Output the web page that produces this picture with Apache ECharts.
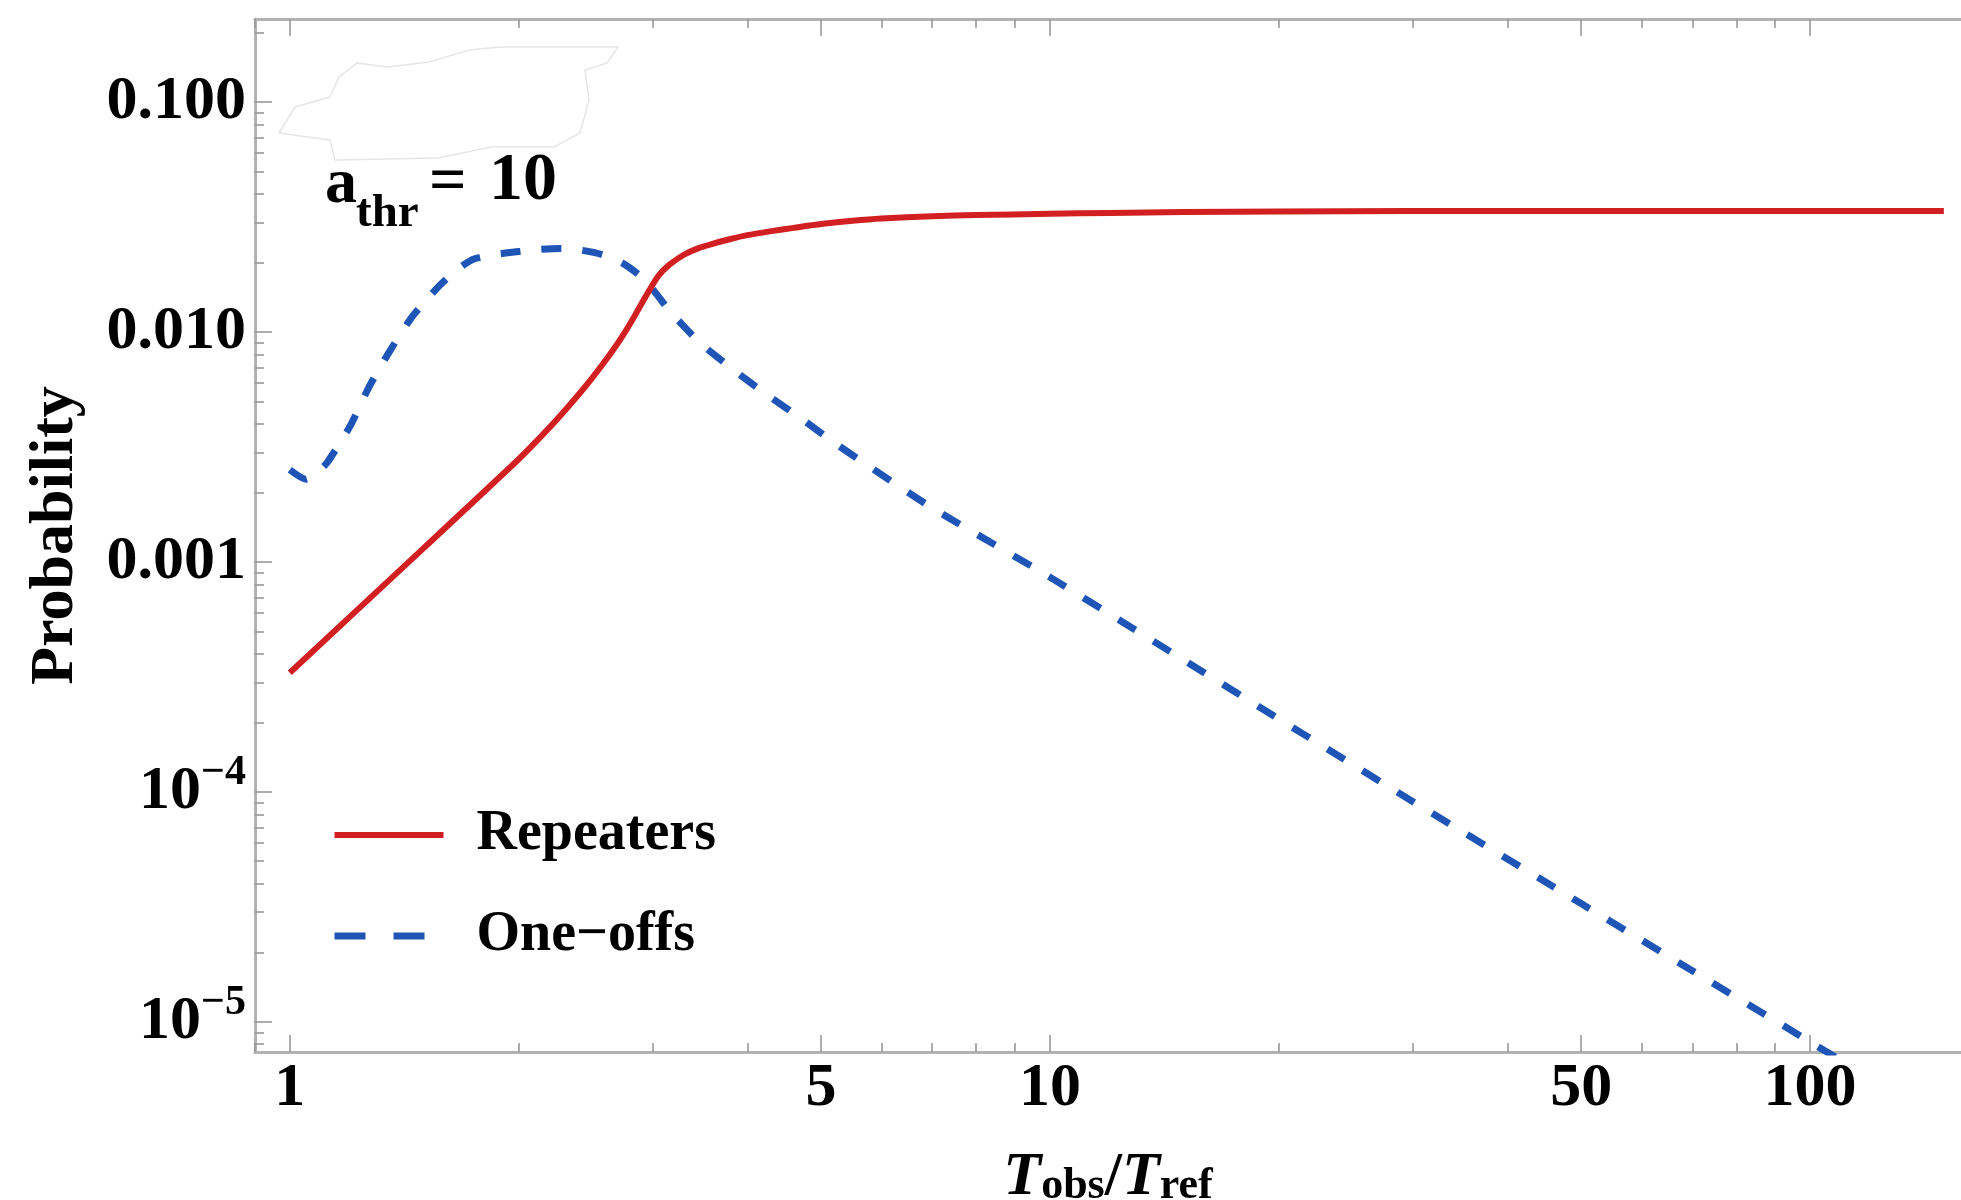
<!DOCTYPE html>
<html>
<head>
<meta charset="utf-8">
<script src="https://cdn.jsdelivr.net/npm/echarts@6/dist/echarts.min.js"></script>
<style>
  html, body { margin: 0; padding: 0; background: #ffffff; }
  #chart { width: 1961px; height: 1200px; }
</style>
</head>
<body>
<div id="chart"></div>
<script>
// Detection probability versus observing time, repeaters vs one-off sources
const seriesNames = ['Repeaters', 'One\u2212offs'];

const repeatersT = [1, 1.5, 2, 2.2, 2.35, 2.5, 2.65, 2.75, 2.85, 2.95, 3.05, 3.15, 3.3, 3.45, 3.6, 3.8, 4, 4.3, 4.6, 5, 5.5, 6, 7, 8, 10, 12, 15, 20, 30, 50, 100, 150];
const repeatersP = [3.3e-4, 1.15e-3, 2.8e-3, 3.87e-3, 4.94e-3, 6.33e-3, 8.18e-3, 9.81e-3, 1.194e-2, 1.459e-2, 1.746e-2, 1.95e-2, 2.17e-2, 2.32e-2, 2.42e-2, 2.54e-2, 2.64e-2, 2.75e-2, 2.84e-2, 2.95e-2, 3.05e-2, 3.12e-2, 3.19e-2, 3.23e-2, 3.27e-2, 3.3e-2, 3.33e-2, 3.35e-2, 3.36e-2, 3.36e-2, 3.36e-2, 3.36e-2];

const oneOffsT = [1, 1.05, 1.08, 1.12, 1.2, 1.27, 1.35, 1.45, 1.57, 1.65, 1.74, 1.85, 2, 2.13, 2.27, 2.42, 2.58, 2.75, 2.9, 3.02, 3.15, 3.3, 3.46, 3.65, 3.83, 4.24, 4.69, 5.18, 5.74, 7, 10, 15, 20, 30, 50, 70, 100, 150];
const oneOffsP = [2.52e-3, 2.29e-3, 2.4e-3, 2.71e-3, 3.89e-3, 5.74e-3, 8.15e-3, 1.17e-2, 1.58e-2, 1.84e-2, 2.07e-2, 2.17e-2, 2.24e-2, 2.29e-2, 2.31e-2, 2.27e-2, 2.17e-2, 1.98e-2, 1.74e-2, 1.5e-2, 1.25e-2, 1.06e-2, 9.0e-3, 7.8e-3, 6.87e-3, 5.35e-3, 4.25e-3, 3.34e-3, 2.65e-3, 1.72e-3, 8.6e-4, 3.75e-4, 2.08e-4, 9.1e-5, 3.27e-5, 1.67e-5, 8.2e-6, 3.62e-6];

const xTickLabels = [1, 5, 10, 50, 100];
const yTickLabels = [1e-5, 1e-4, 1e-3, 1e-2, 1e-1];

const X_MIN = 0.9, X_MAX = 158;
const Y_MIN = 7.4e-6, Y_MAX = 0.23;

// minor ticks at 2..9 times each decade (skipping labelled ones)
function minorTicks(lo, hi, skip) {
  const out = [];
  for (let e = -7; e <= 3; e++) {
    const d = Math.pow(10, e);
    for (let m = 2; m <= 9; m++) {
      const v = +(m * d).toPrecision(6);
      if (v >= lo && v <= hi && skip.indexOf(v) < 0) out.push(v);
    }
  }
  return out;
}
const xMinor = minorTicks(X_MIN, X_MAX, xTickLabels);
const yMinor = minorTicks(Y_MIN, Y_MAX, yTickLabels);

const FONT = '"Liberation Serif", "Times New Roman", serif';
const FRAME = '#b2b2b2';
const TICK = '#999999';
const RED = '#d11f22';
const BLUE = '#1f55b6';

function pairs(xs, ys) { return xs.map((x, i) => [x, ys[i]]); }

function xAxisDef(position, ticks, len, opts) {
  return Object.assign({
    type: 'log', logBase: 10, min: X_MIN, max: X_MAX, position: position,
    axisLine: { show: false, onZero: false },
    axisTick: { show: true, inside: true, length: len, customValues: ticks,
                lineStyle: { color: TICK, width: 1.6 } },
    axisLabel: { show: false },
    splitLine: { show: false }, minorTick: { show: false }
  }, opts || {});
}
function yAxisDef(ticks, len, opts) {
  return Object.assign({
    type: 'log', logBase: 10, min: Y_MIN, max: Y_MAX, position: 'left',
    axisLine: { show: false, onZero: false },
    axisTick: { show: true, inside: true, length: len, customValues: ticks,
                lineStyle: { color: TICK, width: 1.6 } },
    axisLabel: { show: false },
    splitLine: { show: false }, minorTick: { show: false }
  }, opts || {});
}

const frameLine = { show: true, onZero: false, lineStyle: { color: FRAME, width: 3 } };

const option = {
  animation: false,
  backgroundColor: '#ffffff',
  grid: { left: 255, top: 19, right: 0, bottom: 148, containLabel: false, outerBoundsMode: 'none' },
  xAxis: [
    xAxisDef('bottom', xTickLabels, 17, {
      axisLine: frameLine,
      axisLabel: {
        show: true, customValues: xTickLabels, margin: 6,
        formatter: v => String(Math.round(v)),
        color: '#000', fontFamily: FONT, fontWeight: 'bold', fontSize: 62
      },
      name: '{t|T}{s|obs}{u|/}{t|T}{s|ref}',
      nameLocation: 'middle', nameGap: 88,
      nameTextStyle: {
        color: '#000',
        rich: {
          t: { fontFamily: FONT, fontStyle: 'italic', fontWeight: 'bold', fontSize: 62, lineHeight: 62, verticalAlign: 'top', color: '#000' },
          u: { fontFamily: FONT, fontWeight: 'bold', fontSize: 62, lineHeight: 62, verticalAlign: 'top', color: '#000' },
          s: { fontFamily: FONT, fontWeight: 'bold', fontSize: 44, lineHeight: 44, padding: [40, 0, 0, 0], verticalAlign: 'bottom', color: '#000' }
        }
      }
    }),
    xAxisDef('bottom', xMinor, 9),
    xAxisDef('top', xTickLabels, 17, { axisLine: frameLine }),
    xAxisDef('top', xMinor, 9)
  ],
  yAxis: [
    yAxisDef(yTickLabels, 17, {
      axisLine: frameLine,
      axisLabel: {
        show: true, customValues: yTickLabels, margin: 9,
        formatter: function (v) {
          const e = Math.round(Math.log10(v));
          if (e >= -3) return '{b|' + Math.pow(10, e).toFixed(3) + '}';
          return '{b|10}{sup|\u2212' + (-e) + '}';
        },
        rich: {
          b: { fontFamily: FONT, fontWeight: 'bold', fontSize: 62, lineHeight: 80, color: '#000' },
          sup: { fontFamily: FONT, fontWeight: 'bold', fontSize: 42, lineHeight: 42, verticalAlign: 'top', color: '#000' }
        }
      },
      name: 'Probability', nameLocation: 'middle', nameRotate: 90, nameGap: 168,
      nameTextStyle: { fontFamily: FONT, fontWeight: 'bold', fontSize: 62, color: '#000' }
    }),
    yAxisDef(yMinor, 9)
  ],
  legend: {
    orient: 'vertical', left: 331, top: 791, padding: 0,
    itemWidth: 109, itemHeight: 20, itemGap: 13,
    itemStyle: { opacity: 0 },
    textStyle: { fontFamily: FONT, fontWeight: 'bold', fontSize: 56, lineHeight: 60, color: '#000', padding: [28, 0, 0, 28] },
    data: [
      { name: seriesNames[0], lineStyle: { width: 6 } },
      { name: seriesNames[1], lineStyle: { width: 7, type: [31, 28] } }
    ]
  },
  graphic: [
    // faint pencil outline in the upper-left corner
    {
      type: 'polyline', silent: true, z: 0,
      shape: { points: [[279,133],[295,107],[330,97],[339,77],[357,63],[388,67],[429,62],[469,50],[500,47],[618,47],[607,63],[585,70],[589,100],[580,133],[554,147],[491,147],[438,158],[335,160],[330,140],[279,133]] },
      style: { stroke: '#e6e6e6', lineWidth: 1.5, fill: null }
    },
    { type: 'text', left: 325, top: 153, z: 10,
      style: { text: 'a', fill: '#000', font: 'bold 64px ' + FONT } },
    { type: 'text', left: 356, top: 190, z: 10,
      style: { text: 'thr', fill: '#000', font: 'bold 47px ' + FONT } },
    { type: 'text', left: 429, top: 151, z: 10,
      style: { text: '=', fill: '#000', font: 'bold 66px ' + FONT } },
    { type: 'text', left: 489, top: 147, z: 10,
      style: { text: '10', fill: '#000', font: 'bold 68px ' + FONT } }
  ],
  series: [
    {
      name: seriesNames[0], type: 'line', xAxisIndex: 0, yAxisIndex: 0,
      data: pairs(repeatersT, repeatersP),
      symbol: 'none', showSymbol: false, smooth: 0.2, clip: true,
      lineStyle: { color: RED, width: 6, join: 'round' }, itemStyle: { color: RED }, z: 3
    },
    {
      name: seriesNames[1], type: 'line', xAxisIndex: 0, yAxisIndex: 0,
      data: pairs(oneOffsT, oneOffsP),
      symbol: 'none', showSymbol: false, smooth: 0.2, clip: true,
      lineStyle: { color: BLUE, width: 7, type: [20, 21] }, itemStyle: { color: BLUE }, z: 2
    }
  ]
};

const chart = echarts.init(document.getElementById('chart'), null, { renderer: 'canvas' });
chart.setOption(option);
</script>
</body>
</html>
